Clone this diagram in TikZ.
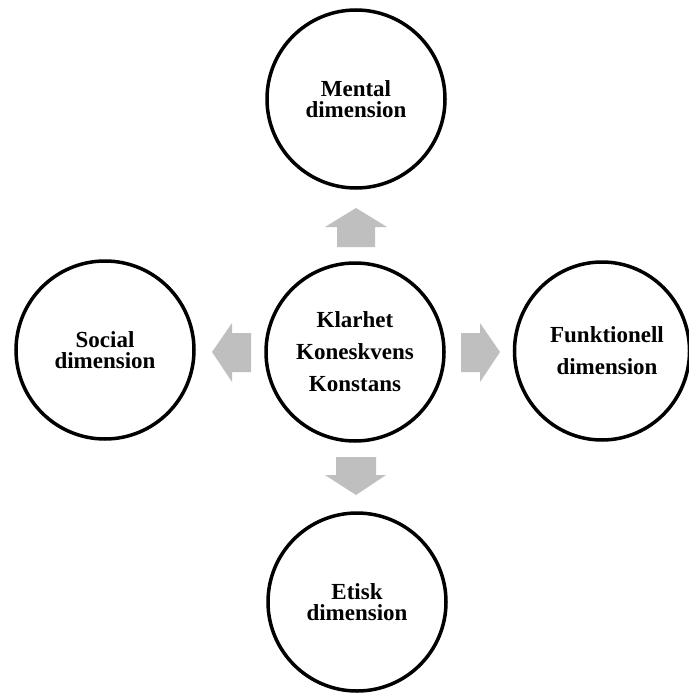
\documentclass[tikz,border=0pt]{standalone}
\usepackage{fontspec}
\setmainfont{Liberation Serif}
\usetikzlibrary{shapes.geometric}
\definecolor{arrowgray}{HTML}{BFBFBF}
\tikzset{
  dim/.style={circle, draw=black, line width=3.5pt, minimum size=178pt, inner sep=0pt,
    align=center, font=\bfseries\fontsize{23}{21}\selectfont},
  dimwide/.style={dim, font=\bfseries\fontsize{23}{32}\selectfont},
  blockarrow/.style={fill=arrowgray, draw=none}
}
\begin{document}
\begin{tikzpicture}[x=1pt, y=-1pt]
\useasboundingbox (0,0) rectangle (688,693);
% circles
\node[dimwide] (core) at (355,352) {Klarhet\\Koneskvens\\Konstans};
\node[dim] (mental) at (356,99) {Mental\\dimension};
\node[dim] (social) at (105,350) {Social\\dimension};
\node[dimwide, ellipse, minimum width=166pt, minimum height=178pt] (funk) at (602,351) {\hspace*{10pt}Funktionell\\\hspace*{10pt}dimension};
\node[dim] (etisk) at (357,602) {Etisk\\dimension};
% block arrows
\fill[blockarrow] (337,247) -- (337,227) -- (325,227) -- (356,208) -- (387,227) -- (375,227) -- (375,247) -- cycle;
\fill[blockarrow] (336,457) -- (336,475) -- (325,475) -- (356,495) -- (386,475) -- (376,475) -- (376,457) -- cycle;
\fill[blockarrow] (251,333) -- (232,333) -- (232,323) -- (212,352) -- (232,382) -- (232,372) -- (251,372) -- cycle;
\fill[blockarrow] (461,333) -- (480,333) -- (480,323) -- (500,352) -- (480,382) -- (480,372) -- (461,372) -- cycle;
\end{tikzpicture}
\end{document}
